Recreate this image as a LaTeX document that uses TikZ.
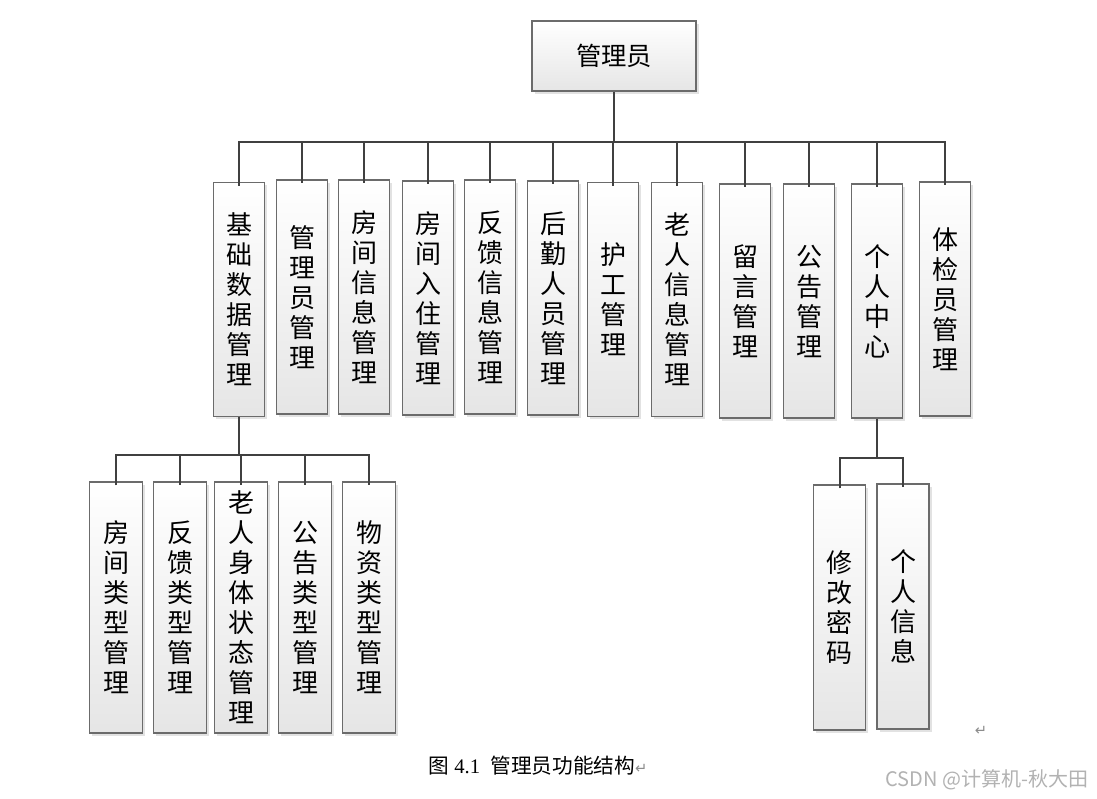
\documentclass[tikz,border=0pt]{standalone}
\usepackage{fontspec}
\setmainfont{Liberation Serif}
\newfontfamily\cjk{Noto Sans CJK SC}
\newfontfamily\dejavu{DejaVu Sans}
\usetikzlibrary{shadows}
\newlength{\upx}\setlength{\upx}{0.75pt}
\begin{document}
\begin{tikzpicture}[x=0.75pt,y=-0.75pt,
  box/.style={draw=black!58, line width=0.8pt, top color=white, bottom color=black!10,
    drop shadow={shadow xshift=2pt, shadow yshift=-2pt, fill=black!22},
    inner sep=0pt, align=center, font=\cjk\fontsize{19.5}{22.5}\selectfont},
  vbox/.style={box, minimum width=51\upx, minimum height=234\upx},
  lbox/.style={box, minimum width=53\upx, minimum height=251\upx},
  rbox/.style={box, minimum width=52\upx, minimum height=245\upx},
  conn/.style={draw=black!75, line width=1.5pt}]
\useasboundingbox (0,0) rectangle (1097,799);
\fill[white] (0,0) rectangle (1097,799);

% top
\node[box, minimum width=164\upx, minimum height=70\upx, font=\cjk\fontsize{19}{21}\selectfont] (top) at (614,56) {管理员};

% middle row
\node[vbox] (m1) at (239,299.5) {基\\础\\数\\据\\管\\理};
\node[vbox] (m2) at (302,297) {管\\理\\员\\管\\理};
\node[vbox] (m3) at (364,297) {房\\间\\信\\息\\管\\理};
\node[vbox] (m4) at (428,298) {房\\间\\入\\住\\管\\理};
\node[vbox] (m5) at (490,297) {反\\馈\\信\\息\\管\\理};
\node[vbox] (m6) at (553,298) {后\\勤\\人\\员\\管\\理};
\node[vbox] (m7) at (613,299.5) {护\\工\\管\\理};
\node[vbox] (m8) at (677,299.5) {老\\人\\信\\息\\管\\理};
\node[vbox] (m9) at (745,301) {留\\言\\管\\理};
\node[vbox] (m10) at (809,301) {公\\告\\管\\理};
\node[vbox] (m11) at (877,301) {个\\人\\中\\心};
\node[vbox] (m12) at (945,299) {体\\检\\员\\管\\理};

% lower left row
\node[lbox] (s1) at (116,607.5) {房\\间\\类\\型\\管\\理};
\node[lbox] (s2) at (180,607.5) {反\\馈\\类\\型\\管\\理};
\node[lbox] (s3) at (241,607.5) {老\\人\\身\\体\\状\\态\\管\\理};
\node[lbox] (s4) at (305,607.5) {公\\告\\类\\型\\管\\理};
\node[lbox] (s5) at (369,607.5) {物\\资\\类\\型\\管\\理};

% lower right row
\node[rbox] (p1) at (839.5,607.5) {修\\改\\密\\码};
\node[rbox] (p2) at (903,606.5) {个\\人\\信\\息};

% connectors: top level
\coordinate (b1) at (614,142);
\draw[conn] (top.south) -- (b1);
\draw[conn] ([yshift=-3pt]m1.north) -- (b1 -| m1.north) -- (b1 -| m12.north) -- ([yshift=-3pt]m12.north);
\foreach \n in {m2,m3,m4,m5,m6,m7,m8,m9,m10,m11}
  \draw[conn] (b1 -| \n.north) -- ([yshift=-3pt]\n.north);

% connectors: 基础数据管理
\coordinate (b2) at (240,455);
\draw[conn] (m1.south) -- (m1.south |- b2);
\draw[conn] ([yshift=-3pt]s1.north) -- (b2 -| s1.north) -- (b2 -| s5.north) -- ([yshift=-3pt]s5.north);
\foreach \n in {s2,s3,s4}
  \draw[conn] (b2 -| \n.north) -- ([yshift=-3pt]\n.north);

% connectors: 个人中心
\coordinate (b3) at (876,458);
\draw[conn] (m11.south) -- (m11.south |- b3);
\draw[conn] ([yshift=-3pt]p1.north) -- (b3 -| p1.north) -- (b3 -| p2.north) -- ([yshift=-3pt]p2.north);

% caption and marks
\node[font=\fontsize{15.5}{18}\selectfont] (cap) at (538,766)
  {{\cjk 图} 4.1\ \ {\cjk 管理员功能结构}{\color{black!45}\dejavu\fontsize{11}{12}\selectfont ↵}};
\node[text=black!45, font=\dejavu\fontsize{11}{12}\selectfont] (ret) at (981,731) {↵};
\node[text=black!30, font=\cjk\fontsize{15}{17}\selectfont, anchor=east] (wm) at (1093,780) {CSDN @计算机-秋大田};
\end{tikzpicture}
\end{document}
